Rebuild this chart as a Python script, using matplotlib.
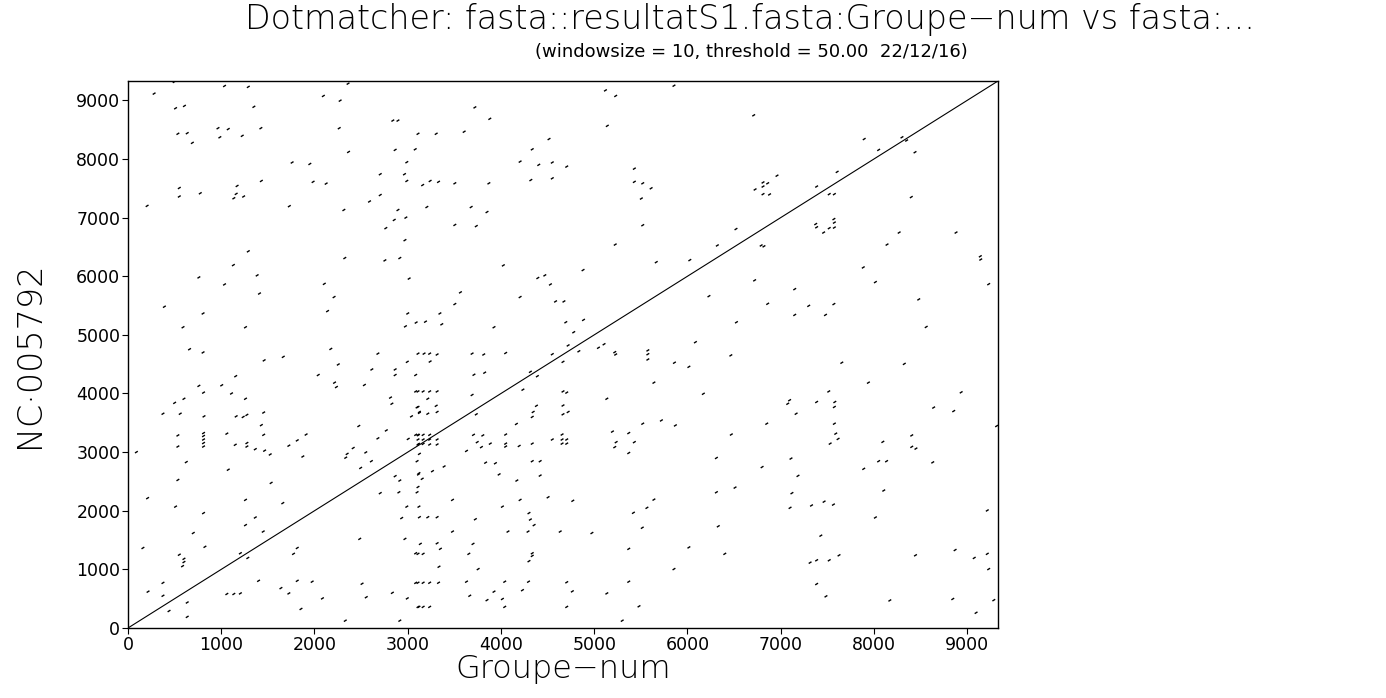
import matplotlib
matplotlib.use("Agg")
import matplotlib.pyplot as plt
from matplotlib.collections import LineCollection

# ---------------- data ----------------
seq_len_x = 9330          # length of Groupe-num
seq_len_y = 9330          # length of NC_005792
title_text = "Dotmatcher: fasta::resultatS1.fasta:Groupe\u2212num vs fasta:..."
subtitle_text = "(windowsize = 10, threshold = 50.00  22/12/16)"
x_label = "Groupe\u2212num"
y_label = "NC\u00b7005792"
x_ticks = [0, 1000, 2000, 3000, 4000, 5000, 6000, 7000, 8000, 9000]
y_ticks = [0, 1000, 2000, 3000, 4000, 5000, 6000, 7000, 8000, 9000]

# main diagonal (self alignment)
diag_x = [0, 9330]
diag_y = [0, 9330]

# short matches (start positions)
match_x = [
    480, 265, 1020, 1275, 2345, 2080, 2260, 495, 590, 1335, 3705, 3865, 2825, 2880, 520, 620, 950, 1060,
    970, 1210, 1410, 2250, 3095, 3290, 3590, 4500, 675, 2350, 2850, 3065, 4320, 1745, 1935, 2975, 4190,
    4390, 2690, 2950, 1415, 1970, 2110, 2975, 3225, 3315, 3490, 3855, 4305, 3145, 535, 535, 760, 1155,
    1145, 1120, 1225, 2690, 2575, 190, 1715, 2300, 2880, 2840, 2965, 3190, 3665, 3835, 3490, 3720, 2750,
    2955, 1275, 2310, 2740, 2900, 4010, 1115, 745, 1370, 3000, 4380, 4455, 4515, 1020, 2090, 1395, 2195,
    3550, 4190, 375, 790, 2125, 3490, 2985, 3330, 2960, 3075, 3175, 3350, 575, 1245, 3910, 645, 790, 1650,
    2160, 2665, 3095, 3160, 3220, 3300, 3675, 3800, 4035,
    5840, 5105, 5215, 6695, 5125, 4535, 4690, 5415, 4535, 5415, 5505, 5595, 5490, 6795, 6845, 6795, 6710,
    6795, 6865, 6945, 5505, 5210, 6505, 6305, 6775, 6805, 5650, 6010, 4865, 6705, 6215, 6845, 4570, 4660,
    4680, 4870, 4765, 6510, 4705, 4820, 5030, 5090, 5205, 5560, 5560, 6070, 6450, 4535,
    7880, 8035, 8285, 8335, 8425, 7590, 7370, 7505, 7560, 8385, 7360, 7370, 7445, 7555, 7560, 7505, 7560,
    8255, 8865, 8125, 9125, 9130, 7870, 8000, 9215, 7135, 7285, 7555, 7135, 7465, 8465, 8545,
    1445, 1140, 2025, 2240, 2600, 2850, 2850, 2980, 3070, 745, 795, 990, 1095, 2200, 2220, 2520, 585, 485,
    1245, 360, 545, 800, 1145, 1220, 1260, 1440, 1415, 2800, 2815, 3070, 3110, 3025, 3085, 520, 520, 795,
    795, 795, 795, 795, 1045, 1135, 1260, 1260, 1350, 1450, 1510, 1440, 1710, 1800, 1895, 1860, 75, 610,
    1060, 520, 1520, 2320, 2335, 2400, 2460, 2535, 2595, 2665, 2755, 2480, 2850, 2900, 2990, 3070, 3100,
    3100, 3110, 3085, 3100, 2890, 2690, 2975, 3085, 3110, 2920, 495, 795, 195, 1245, 1645, 1350, 1245,
    1435, 685, 145, 810, 535, 585, 585, 570, 1190, 1270, 1800, 1760, 2470, 2955, 3070, 360, 360, 200, 1045,
    1120, 1190, 1385, 620, 425, 620, 1625, 1710, 1800, 1960, 2070, 1840, 2495, 2540, 2820, 2980, 3070,
    3105, 2315, 2900,
    3225, 4650, 5215, 5560, 5845, 6000, 3695, 3810, 4300, 4375, 5625, 6155, 3095, 3150, 3220, 3300, 3200,
    3675, 4220, 4650, 4690, 5120, 3095, 3290, 3110, 3200, 3300, 3720, 4365, 4330, 4320, 4650, 4650, 4705,
    4150, 5505, 5705, 5855, 3095, 3150, 3220, 3095, 3150, 3220, 3300, 3095, 3150, 3220, 3300, 3690, 3790,
    3730, 3775, 3870, 4035, 4035, 4035, 4180, 3615, 4320, 4535, 4640, 4640, 4640, 4690, 4690, 5180, 5355,
    5220, 5205, 5415, 5355, 3820, 3925, 4320, 4405, 3375, 3250, 3105, 3140, 3965, 4155, 4405, 3095, 3465,
    4190, 4490, 4755, 5625, 5550, 3105, 4000, 5405, 3200, 3300, 3710, 4285, 4300, 4340, 5500, 3465,
    4060, 4275, 4620, 4960, 3120, 3300, 3335, 3685, 3095, 3150, 3640, 4320, 4320, 4285, 5355, 6000, 3320,
    3740, 5840, 3095, 3150, 3220, 3315, 3615, 4025, 4280, 4690, 5355, 4215, 4750, 3650, 3910, 3835, 4000,
    5120, 3095, 3150, 3220, 4025, 4690, 5465, 5285,
    7640, 8310, 7925, 8920, 7500, 7080, 7060, 7370, 7565, 7560, 7150, 8625, 8840, 6835, 7560, 6455, 7575,
    7600, 7515, 8390, 8390, 8435, 8080, 9300, 6295, 7095, 6785, 8035, 8120, 7875, 8615, 7170, 6295, 6495,
    7105, 8090, 7085, 7315, 7450, 7550, 8000, 9200, 6315, 7415, 6385, 7300, 7370, 7505, 7610, 8430, 8855,
    9060, 9200, 9215, 7370, 7470, 8155, 8830, 9270, 9080,
]
match_y = [
    9300, 9100, 9230, 9215, 9270, 9060, 8980, 8850, 8890, 8875, 8865, 8670, 8640, 8640, 8415, 8425, 8510, 8495,
    8355, 8380, 8510, 8510, 8415, 8415, 8450, 8325, 8260, 8105, 8140, 8150, 8150, 7925, 7900, 7930, 7940,
    7885, 7725, 7725, 7610, 7595, 7565, 7610, 7610, 7595, 7570, 7570, 7625, 7540, 7490, 7345, 7400, 7525,
    7390, 7315, 7345, 7370, 7260, 7185, 7180, 7115, 7115, 6945, 6985, 7165, 7165, 7080, 6860, 6840, 6805,
    6600, 6410, 6295, 6255, 6295, 6170, 6175, 5965, 6000, 5945, 5955, 6000, 5845, 5845, 5855, 5690, 5630,
    5710, 5630, 5465, 5350, 5390, 5510, 5350, 5350, 5130, 5195, 5210, 5165, 5115, 5115, 5115, 4740, 4685, 4610,
    4745, 4665, 4665, 4665, 4665, 4650, 4665, 4650, 4675,
    9235, 9155, 9060, 8730, 8550, 7925, 7855, 7820, 7655, 7595, 7570, 7485, 7310, 7585, 7570, 7515, 7465,
    7385, 7380, 7700, 6855, 6525, 6790, 6510, 6510, 6495, 6225, 6260, 6090, 5915, 5645, 5515, 5555, 5555,
    5200, 5240, 5030, 5200, 4805, 4705, 4765, 4825, 4690, 4720, 4655, 4860, 4635, 4655,
    8325, 8140, 8355, 8300, 8100, 7765, 7515, 7385, 7385, 7335, 6875, 6820, 6730, 6960, 6900, 6805, 6815,
    6730, 6730, 6525, 6325, 6270, 6135, 5885, 5850, 5765, 5480, 5510, 5325, 5325, 5590, 5120,
    4550, 4280, 4300, 4480, 4395, 4395, 4300, 4525, 4300, 4115, 4000, 4125, 3985, 4170, 4095, 4130, 3895, 3825,
    3895, 3640, 3640, 3595, 3595, 3585, 3620, 3660, 3445, 3915, 3810, 4020, 3655, 3595, 3750, 3270, 3080, 3310,
    3260, 3200, 3140, 3080, 3300, 3110, 3140, 3080, 3035, 3010, 2945, 3280, 3095, 3185, 3285, 2910, 2985, 2815,
    2685, 2510, 2460, 2890, 2955, 3055, 3430, 2980, 2830, 3220, 3355, 2715, 2575, 2500, 3210, 3280, 3125,
    3275, 2955, 2830, 2605, 2300, 2285, 2055, 2300, 1875, 1860, 2055, 1945, 2200, 2170, 2115, 1870, 1740,
    1630, 1605, 1350, 1370, 1235, 1165, 1110, 1040, 1260, 1180, 1350, 1250, 1505, 1505, 1260, 755, 535, 605, 565,
    565, 575, 790, 420, 275, 175, 665, 575, 790, 775, 490, 310, 740, 510, 585, 490, 755,
    345, 110, 110,
    4530, 4525, 4650, 4565, 4510, 4440, 4305, 4340, 4355, 4280, 4170, 3980, 4020, 4020, 4020, 4020, 3895,
    3960, 4050, 4020, 4000, 3895, 3755, 3775, 3670, 3640, 3670, 3630, 3775, 3670, 3585, 3780, 3630, 3670,
    3465, 3470, 3525, 3440, 3280, 3280, 3280, 3200, 3200, 3200, 3200, 3115, 3125, 3115, 3115, 3280, 3270,
    3155, 3070, 3130, 3285, 3130, 3080, 3090, 3005, 3130, 3200, 3285, 3200, 3130, 3200, 3130, 3335, 3310,
    3155, 3070, 3155, 2970, 2805, 2795, 2830, 2830, 2740, 2660, 2625, 2530, 2605, 2500, 2585, 2390, 2170,
    2170, 2215, 2155, 2175, 2035, 2055, 2055, 1950, 1875, 1875, 1840, 1945, 1835, 1740, 1695, 1630,
    1630, 1630, 1630, 1605, 1420, 1430, 1335, 1420, 1250, 1250, 1250, 1260, 1215, 1125, 1335, 1360, 1030,
    990, 990, 757, 757, 757, 757, 775, 775, 775, 765, 775, 630, 610, 535, 605, 460, 480,
    575, 345, 345, 345, 345, 345, 355, 110,
    4510, 4490, 4170, 4005, 4020, 3870, 3810, 3840, 3840, 3755, 3640, 3745, 3685, 3470, 3470, 3285, 3300,
    3210, 3130, 3270, 3075, 3045, 3160, 3430, 2885, 2875, 2730, 2830, 2830, 2700, 2810, 2580, 2300, 2380,
    2285, 2330, 2035, 2075, 2140, 2090, 1870, 1990, 1720, 1560, 1250, 1100, 1140, 1140, 1225, 1225, 1315,
    1180, 1250, 990, 735, 525, 455, 480, 460, 245,
]

# ---------------- styling ----------------
W, H = 1386, 698
fig = plt.figure(figsize=(W / 100, H / 100), dpi=100)
fig.patch.set_facecolor("white")
ax = fig.add_axes([128 / W, (H - 628) / H, 870 / W, 547 / H])
ax.set_xlim(0, seq_len_x)
ax.set_ylim(0, seq_len_y)

# diagonal
ax.plot(diag_x, diag_y, color="black", lw=0.8, solid_capstyle="butt")

# short matches drawn as tiny diagonal strokes
seg_len = 30
segs = [[(x, y), (x + seg_len, y + seg_len)] for x, y in zip(match_x, match_y)]
lc = LineCollection(segs, colors="black", linewidths=1.0, antialiaseds=True)
ax.add_collection(lc)

for s in ax.spines.values():
    s.set_linewidth(1.0)
    s.set_color("black")

ax.set_xticks(x_ticks)
ax.set_yticks(y_ticks)
ax.set_xticklabels([str(t) for t in x_ticks])
ax.set_yticklabels([str(t) for t in y_ticks])
ax.tick_params(direction="out", length=4.5, width=0.8, labelsize=12.5, pad=1,
               colors="black")

fig.text(750 / W, 1 - 20 / H, title_text, ha="center", va="center",
         fontsize=24, fontweight="light", color="black")
fig.text(751 / W, 1 - 52 / H, subtitle_text, ha="center", va="center",
         fontsize=13, color="black")
fig.text(563 / W, 1 - 669 / H, x_label, ha="center", va="center",
         fontsize=23, fontweight="light", color="black")
fig.text(30 / W, 1 - 355 / H, y_label, ha="center", va="center",
         rotation=90, fontsize=24, fontweight="light", color="black")

fig.savefig("out.png", dpi=100, facecolor="white")
